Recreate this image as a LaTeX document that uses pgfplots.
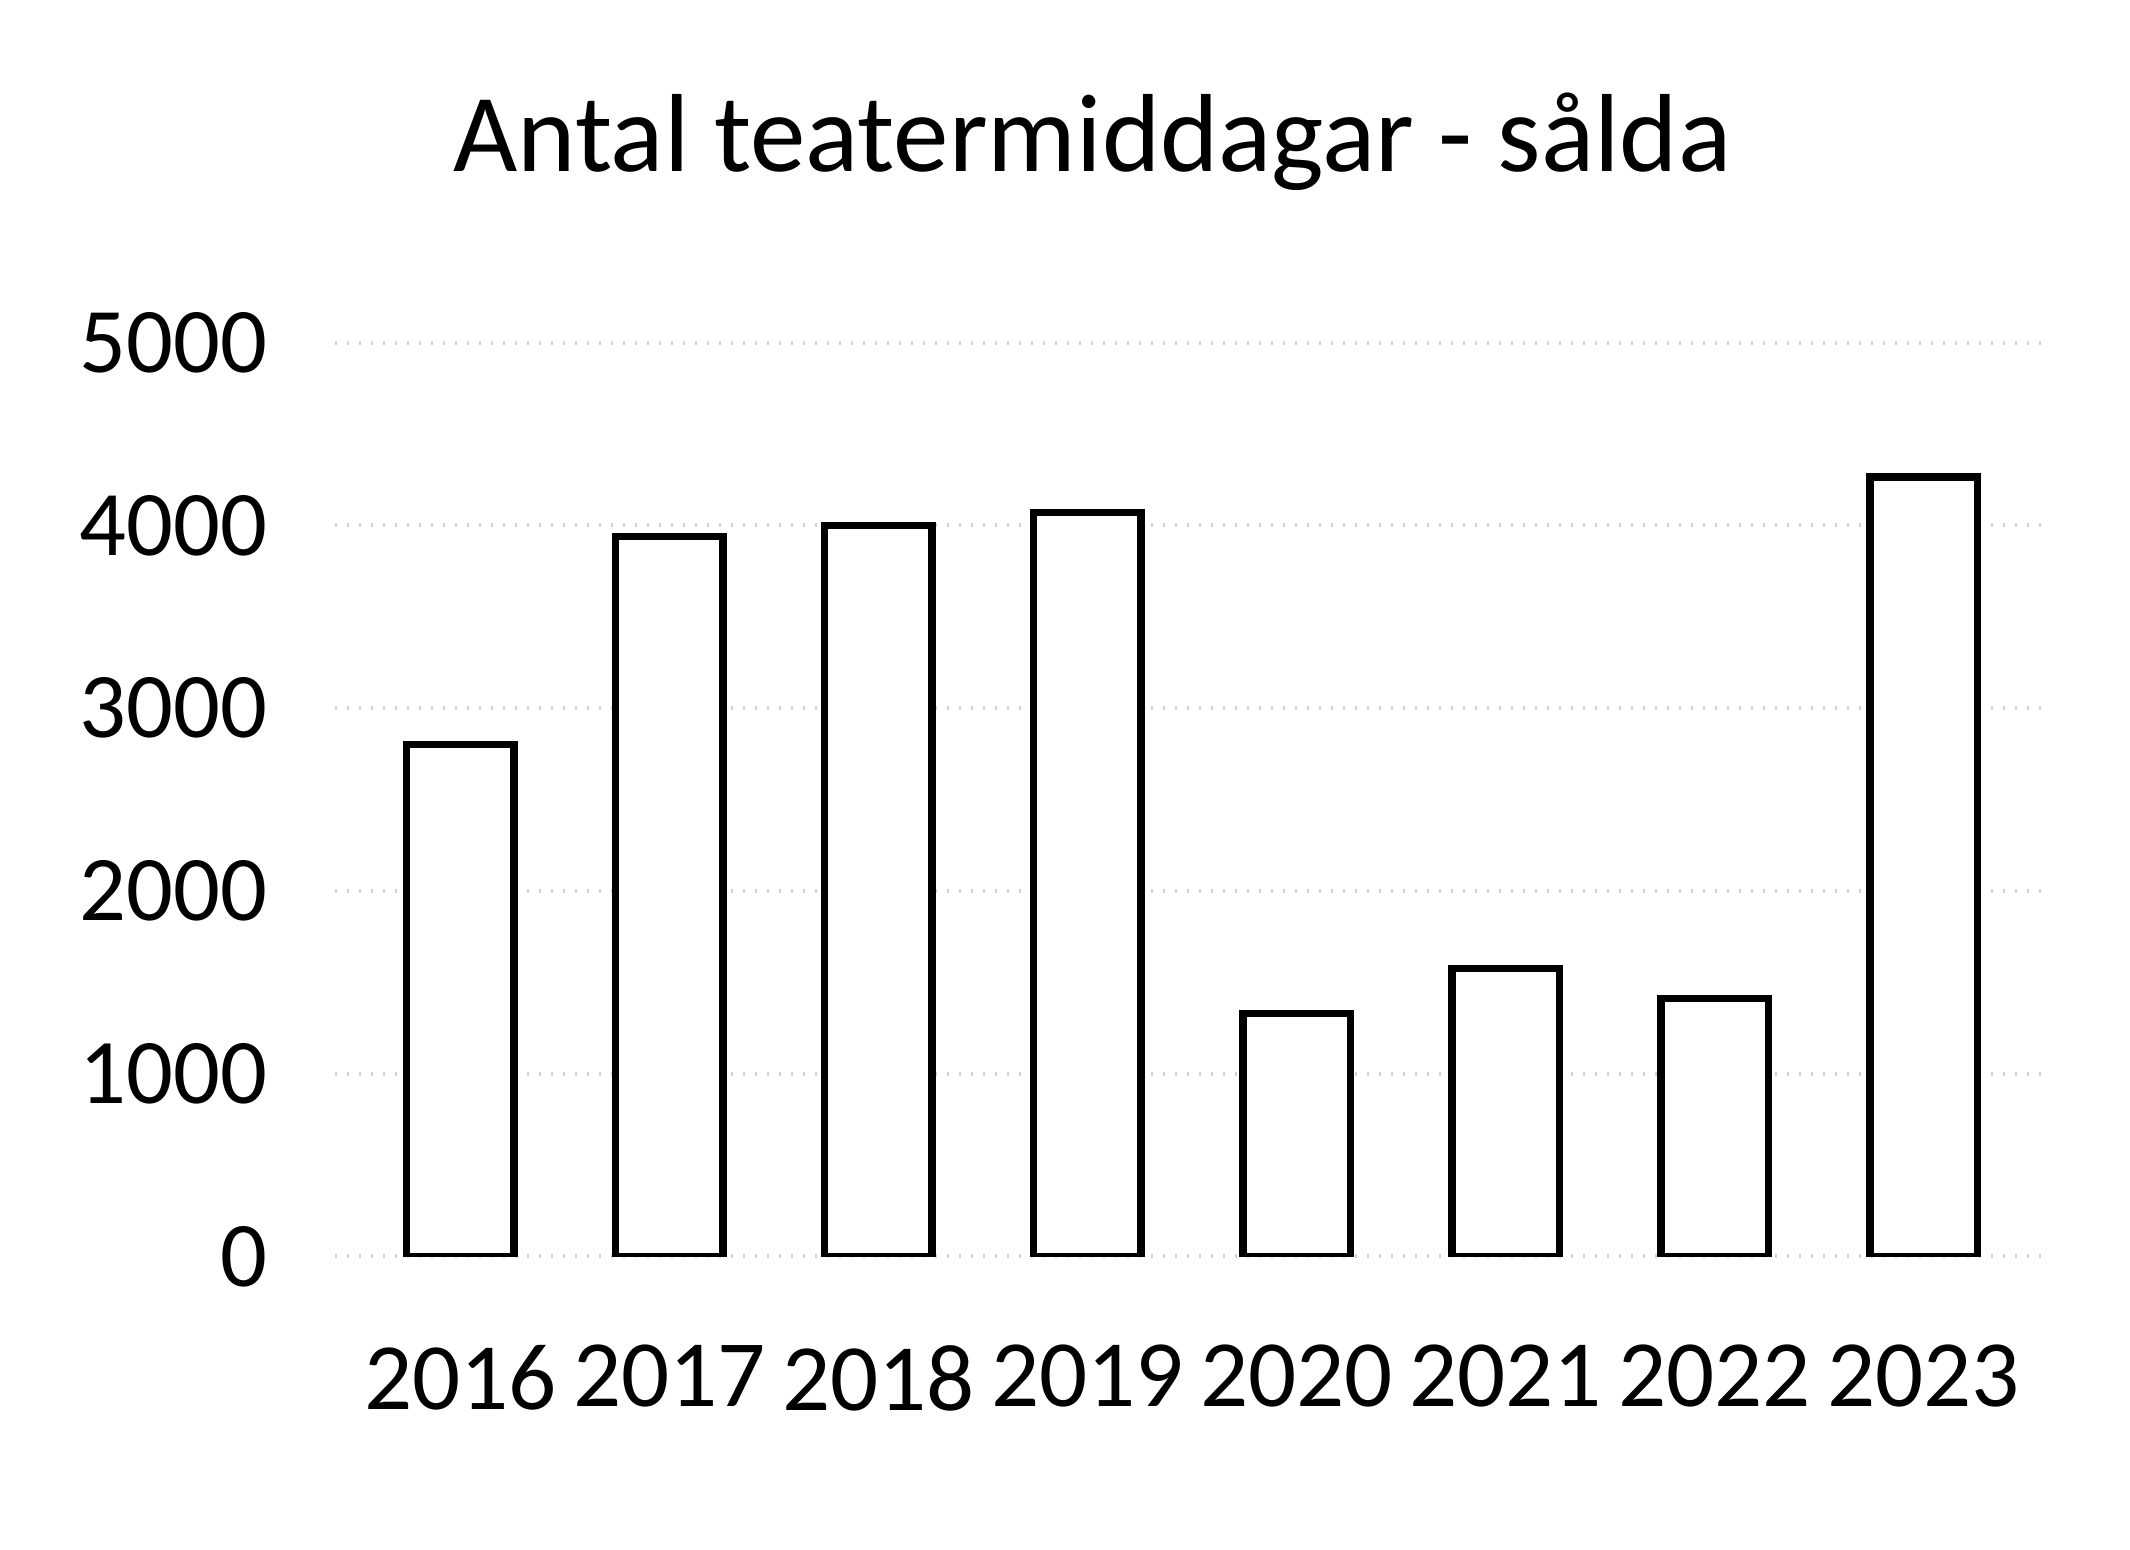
\documentclass[border=0pt]{standalone}
\usepackage{fontspec}
\setmainfont{Carlito}
\usepackage{pgfplots}
\pgfplotsset{compat=1.18}
\begin{document}
\begin{tikzpicture}
\useasboundingbox (-67pt,-58.7pt) rectangle (359pt,251.3pt);
\begin{axis}[
  scale only axis, width=342.8pt, height=182.8pt,
  at={(0,0)}, anchor=south west,
  xmin=-0.6, xmax=7.6, ymin=0, ymax=5000,
  axis line style={draw=none},
  major tick length=0pt,
  ytick={0,1000,2000,3000,4000,5000},
  xtick={0,1,2,3,4,5,6,7},
  xticklabels={2016,2017,2018,2019,2020,2021,2022,2023},
  ymajorgrids, grid style={gray!35, dotted, line width=0.8pt},
  ybar, bar width=21.5pt,
  /pgf/number format/assume math mode=true,
  /pgf/number format/1000 sep={},
  yticklabel style={font=\fontsize{18.5}{20}\selectfont, xshift=-10pt},
  xticklabel style={font=\fontsize{19}{21}\selectfont, yshift=-14.2pt},
]
\addplot[fill=white, draw=black, line width=1.5pt] coordinates {
  (0,2800) (1,3940) (2,4000) (3,4070) (4,1330) (5,1575) (6,1410) (7,4265)
};
\end{axis}
\node[font=\fontsize{22.2}{26}\selectfont] at (151.5pt,223pt) {Antal teatermiddagar - sålda};
\end{tikzpicture}
\end{document}
